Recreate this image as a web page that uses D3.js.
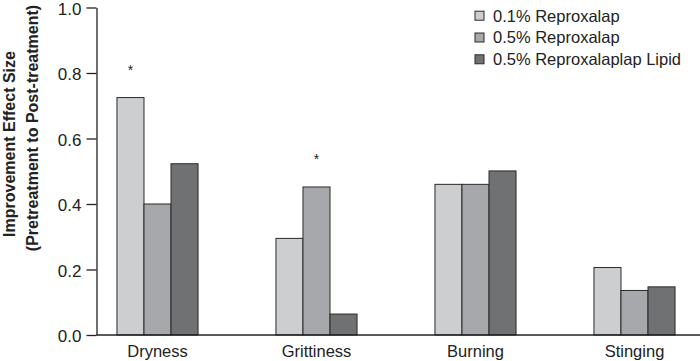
<!DOCTYPE html>
<html>
<head>
<meta charset="utf-8">
<script src="https://cdn.jsdelivr.net/npm/d3@7"></script>
<style>
  body { margin: 0; background: #fff; }
  svg { display: block; font-family: "Liberation Sans", Arial, Helvetica, sans-serif; }
</style>
</head>
<body>
<svg id="drawing_region"></svg>
<script>
// data
const categories = ["Dryness", "Grittiness", "Burning", "Stinging"];
const seriesNames = ["0.1% Reproxalap", "0.5% Reproxalap", "0.5% Reproxalaplap Lipid"];
const low01 = [0.725, 0.295, 0.46, 0.206];
const mid05 = [0.40, 0.452, 0.46, 0.136];
const lipid05 = [0.523, 0.064, 0.501, 0.147];
const yTicks = [0, 0.2, 0.4, 0.6, 0.8, 1.0];
// significance markers: [category, series]
const stars = [["Dryness", "0.1% Reproxalap"], ["Grittiness", "0.5% Reproxalap"]];

const colors = ["#cdced0", "#a7a8ab", "#707173"];

const width = 700, height = 361;
const svg = d3.select("#drawing_region")
    .attr("width", width)
    .attr("height", height);

const table = categories.map((c, i) => ({
    cat: c,
    values: [low01[i], mid05[i], lipid05[i]].map((v, j) => ({ name: seriesNames[j], v: v }))
}));

// scales
const yscale = d3.scaleLinear().domain([0, 1]).range([335, 7.5]);
const x0 = d3.scaleBand().domain(categories).range([78, 714])
    .paddingInner(0.49).paddingOuter(0.245);
const x1 = d3.scaleBand().domain(seriesNames).range([0, x0.bandwidth()]);
const color = d3.scaleOrdinal().domain(seriesNames).range(colors);

// bars
const groups = svg.selectAll("g.group")
    .data(table)
    .enter()
    .append("g")
    .attr("class", "group")
    .attr("transform", d => `translate(${x0(d.cat)},0)`);

groups.selectAll("rect")
    .data(d => d.values)
    .enter()
    .append("rect")
    .attr("x", d => x1(d.name))
    .attr("y", d => yscale(d.v))
    .attr("width", x1.bandwidth())
    .attr("height", d => yscale(0) - yscale(d.v))
    .attr("fill", d => color(d.name))
    .attr("stroke", "#2a2a2a")
    .attr("stroke-width", 1);

// asterisks
stars.forEach(s => {
    const i = categories.indexOf(s[0]);
    const j = seriesNames.indexOf(s[1]);
    const v = [low01, mid05, lipid05][j][i];
    svg.append("text")
        .attr("x", x0(s[0]) + x1(s[1]) + x1.bandwidth() / 2)
        .attr("y", yscale(v) - 23)
        .attr("text-anchor", "middle")
        .attr("font-size", "14px")
        .attr("fill", "#222")
        .text("*");
});

// y axis
const yaxis = d3.axisLeft(yscale)
    .tickValues(yTicks)
    .tickFormat(d3.format(".1f"))
    .tickSize(10)
    .tickPadding(5)
    .tickSizeOuter(0);

const yaxis_group = svg.append("g")
    .attr("transform", "translate(96.5,0)")
    .call(yaxis);
yaxis_group.selectAll("text")
    .attr("font-size", "17px")
    .attr("dy", "0.4em")
    .attr("fill", "#222")
    .attr("font-family", null);
yaxis_group.selectAll("line, path").attr("stroke", "#222").attr("stroke-width", 1.3);

// x axis
const xaxis = d3.axisBottom(x0).tickSize(0).tickPadding(10);
const xaxis_group = svg.append("g")
    .attr("transform", "translate(0,335)")
    .call(xaxis);
xaxis_group.select(".domain").remove();
xaxis_group.selectAll("text").attr("font-size", "16.5px").attr("fill", "#222").attr("font-family", null);

svg.append("line")
    .attr("x1", 96.5).attr("x2", 700)
    .attr("y1", yscale(0)).attr("y2", yscale(0))
    .attr("stroke", "#222")
    .attr("stroke-width", 1.3);

// y axis title
svg.append("text")
    .attr("transform", "translate(15,144) rotate(-90)")
    .attr("text-anchor", "middle")
    .attr("font-size", "16px")
    .attr("font-weight", "bold")
    .attr("fill", "#222")
    .text("Improvement Effect Size");
svg.append("text")
    .attr("transform", "translate(38,128) rotate(-90)")
    .attr("text-anchor", "middle")
    .attr("font-size", "16px")
    .attr("font-weight", "bold")
    .attr("fill", "#222")
    .text("(Pretreatment to Post-treatment)");

// legend
const legend = svg.selectAll("g.legend")
    .data(seriesNames)
    .enter()
    .append("g")
    .attr("class", "legend")
    .attr("transform", (d, i) => `translate(475,${15.7 + i * 21.8})`);

legend.append("rect")
    .attr("x", 0)
    .attr("y", -4.5)
    .attr("width", 9)
    .attr("height", 9)
    .attr("fill", d => color(d))
    .attr("stroke", "#2a2a2a")
    .attr("stroke-width", 1);

legend.append("text")
    .attr("x", 18)
    .attr("y", 0)
    .attr("dy", "0.36em")
    .attr("font-size", "16.5px")
    .attr("fill", "#222")
    .text(d => d);
</script>
</body>
</html>
